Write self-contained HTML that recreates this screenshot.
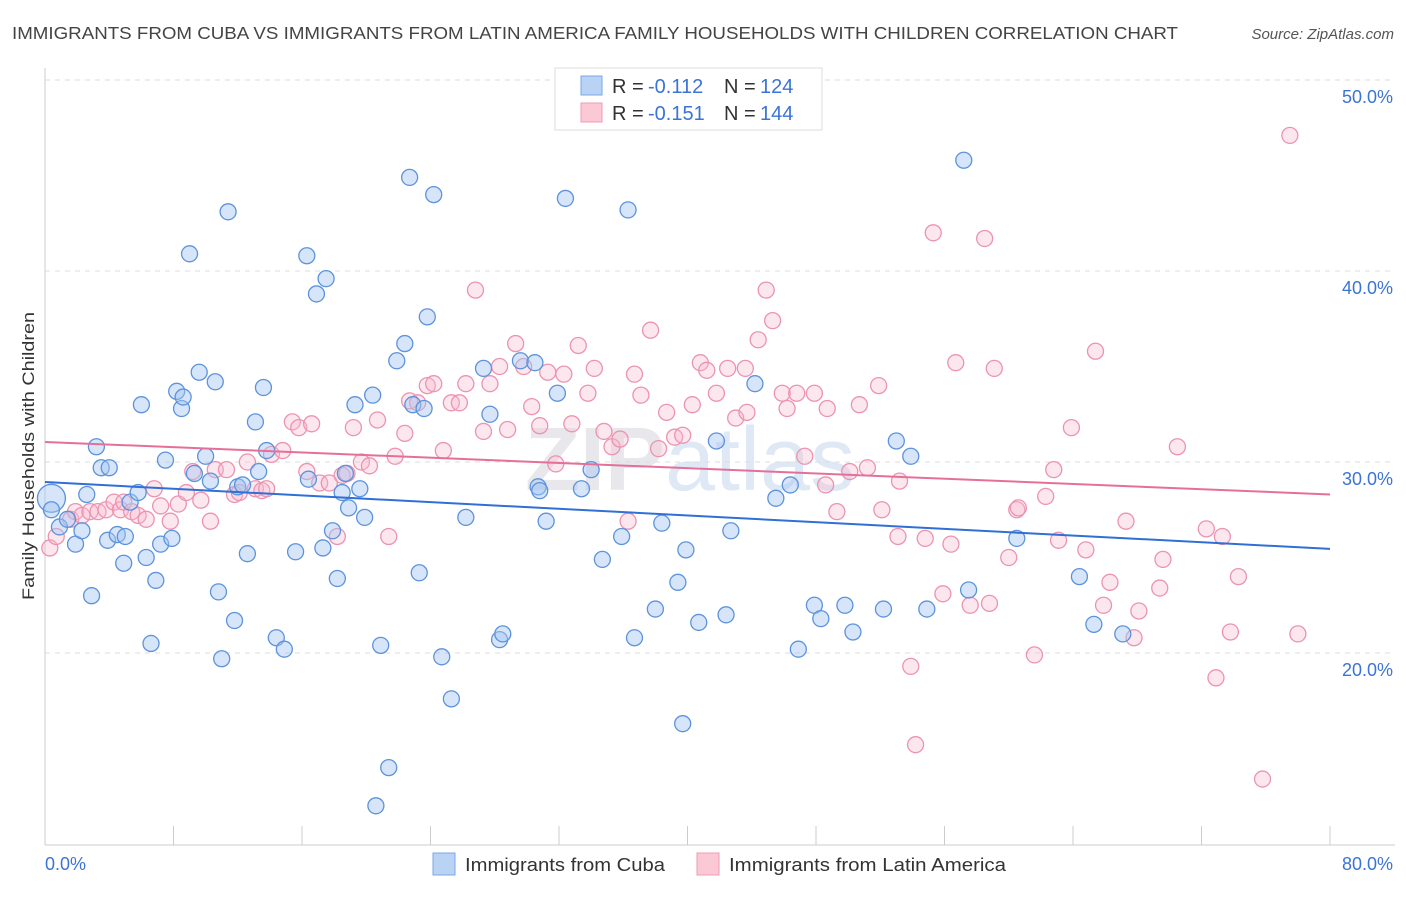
<!DOCTYPE html>
<html><head><meta charset="utf-8"><style>
body{margin:0;background:#fff;font-family:"Liberation Sans",sans-serif;}
svg text{font-family:"Liberation Sans",sans-serif;}
</style></head><body>
<svg id="chart" width="1406" height="892" xmlns="http://www.w3.org/2000/svg">
<text x="12" y="39" font-size="17.5" fill="#444" textLength="1166" lengthAdjust="spacingAndGlyphs">IMMIGRANTS FROM CUBA VS IMMIGRANTS FROM LATIN AMERICA FAMILY HOUSEHOLDS WITH CHILDREN CORRELATION CHART</text>
<text x="1394" y="39" font-size="15" fill="#555" text-anchor="end" font-style="italic">Source: ZipAtlas.com</text>
<text x="690" y="490" font-size="90" fill="#e8e8ec" text-anchor="middle" font-weight="bold">ZIP<tspan fill="#dfe8f5" font-weight="normal">atlas</tspan></text>
<g id="grid"></g><g id="axes"></g><g id="pink"></g><g id="blue"></g><g id="trends"></g>
<text transform="translate(34,456) rotate(-90)" font-size="17" fill="#333" text-anchor="middle" textLength="288" lengthAdjust="spacingAndGlyphs">Family Households with Children</text>
<g>
<rect x="555" y="68" width="267" height="62" fill="#fff" stroke="#ddd"/>
<rect x="581" y="76" width="21" height="19" fill="#b9d3f5" stroke="#7aa7e6"/>
<rect x="581" y="103" width="21" height="19" fill="#fbc8d6" stroke="#f09ab4"/>
<text x="612" y="93" font-size="20" fill="#333">R =</text>
<text x="648" y="93" font-size="20" fill="#3b74d6">-0.112</text>
<text x="724" y="93" font-size="20" fill="#333">N =</text>
<text x="760" y="93" font-size="20" fill="#3b74d6">124</text>
<text x="612" y="120" font-size="20" fill="#333">R =</text>
<text x="648" y="120" font-size="20" fill="#3b74d6">-0.151</text>
<text x="724" y="120" font-size="20" fill="#333">N =</text>
<text x="760" y="120" font-size="20" fill="#3b74d6">144</text>
</g>
<g>
<rect x="433" y="853" width="22" height="22" fill="#b9d3f5" stroke="#7aa7e6"/>
<text x="465" y="871" font-size="18" fill="#333" textLength="200" lengthAdjust="spacingAndGlyphs">Immigrants from Cuba</text>
<rect x="697" y="853" width="22" height="22" fill="#fbc8d6" stroke="#f09ab4"/>
<text x="729" y="871" font-size="18" fill="#333" textLength="277" lengthAdjust="spacingAndGlyphs">Immigrants from Latin America</text>
</g>
</svg>
<script>
const yTicks=[20,30,40,50];
const yTickLabels=["20.0%","30.0%","40.0%","50.0%"];
const xTickVals=[0,8,16,24,32,40,48,56,64,72,80];
const xEndLabels=["0.0%","80.0%"];
const blueX=[0.4,0.4,0.9,1.4,1.9,2.3,3.2,3.5,4.0,2.6,2.9,3.9,4.5,5.0,4.9,5.3,5.8,6.0,6.3,6.6,6.9,7.2,7.5,7.9,8.2,8.5,8.6,9.0,9.3,9.6,10.0,10.3,10.6,10.8,11.0,11.4,11.8,12.0,12.3,12.6,13.1,13.3,13.6,13.8,14.4,14.9,15.6,16.3,16.4,16.9,17.3,17.5,17.9,18.2,18.5,18.7,18.9,19.3,19.6,19.9,20.4,20.6,20.9,21.4,21.9,22.4,22.7,22.9,23.3,23.6,23.8,24.2,24.7,25.3,26.2,27.3,27.7,28.3,28.5,29.6,30.5,30.7,30.8,31.2,31.9,32.4,33.4,34.0,34.7,35.9,36.3,36.7,38.0,38.4,39.4,39.7,39.9,40.7,41.8,42.4,42.7,44.2,45.5,46.4,46.9,47.9,48.3,49.8,50.3,52.2,53.0,53.9,54.9,57.2,57.5,60.5,64.4,65.3,67.1];
const blueY=[28.1,27.5,26.6,27.0,25.7,26.4,30.8,29.7,29.7,28.3,23.0,25.9,26.2,26.1,24.7,27.9,28.4,33.0,25.0,20.5,23.8,25.7,30.1,26.0,33.7,32.8,33.4,40.9,29.4,34.7,30.3,29.0,34.2,23.2,19.7,43.1,21.7,28.7,28.8,25.2,32.1,29.5,33.9,30.6,20.8,20.2,25.3,40.8,29.1,38.8,25.5,39.6,26.4,23.9,28.4,29.4,27.6,33.0,28.6,27.1,33.5,12.0,20.4,14.0,35.3,36.2,44.9,33.0,24.2,32.8,37.6,44.0,19.8,17.6,27.1,34.9,32.5,20.7,21.0,35.3,35.2,28.7,28.5,26.9,33.6,43.8,28.6,29.6,24.9,26.1,43.2,20.8,22.3,26.8,23.7,16.3,25.4,21.6,31.1,22.0,26.4,34.1,28.1,28.8,20.2,22.5,21.8,22.5,21.1,22.3,31.1,30.3,22.3,45.8,23.3,26.0,24.0,21.5,21.0];
const pinkX=[0.3,0.7,1.6,1.9,2.3,2.8,3.3,3.8,4.3,4.7,4.9,5.4,5.8,6.3,6.8,7.2,7.8,8.3,8.8,9.2,9.7,10.3,10.6,11.3,11.8,12.1,12.6,13.1,13.5,13.8,14.1,14.8,15.4,15.8,16.3,16.6,17.1,17.7,18.2,18.5,18.8,19.2,19.7,20.2,20.7,21.4,21.8,22.4,22.7,23.2,23.8,24.2,24.8,25.3,25.8,26.2,26.8,27.3,27.7,28.3,28.8,29.3,29.8,30.3,30.8,31.3,31.8,32.3,32.8,33.2,33.8,34.2,34.8,35.3,35.8,36.3,36.7,37.1,37.7,38.2,38.7,39.2,39.7,40.3,40.8,41.2,41.8,42.5,43.0,43.6,43.7,44.4,44.9,45.3,45.9,46.2,46.8,47.3,47.9,48.6,48.7,49.3,50.1,50.7,51.2,51.9,52.1,53.1,53.2,53.9,54.2,54.8,55.3,55.9,56.4,56.7,57.6,58.5,58.8,59.1,60.0,60.5,60.6,61.6,62.3,62.8,63.1,63.9,64.8,65.4,65.9,66.3,67.3,67.8,68.1,69.4,69.6,70.5,72.3,72.9,73.3,73.8,74.3,75.8,77.5,78.0];
const pinkY=[25.5,26.1,27.0,27.4,27.2,27.4,27.4,27.5,27.9,27.5,27.9,27.4,27.2,27.0,28.6,27.7,26.9,27.8,28.4,29.5,28.0,26.9,29.6,29.6,28.3,28.4,30.0,28.6,28.5,28.6,30.4,30.6,32.1,31.8,29.5,32.0,28.9,28.9,26.1,29.3,29.4,31.8,30.0,29.8,32.2,26.1,30.3,31.5,33.2,33.1,34.0,34.1,30.6,33.1,33.1,34.1,39.0,31.6,34.1,35.0,31.7,36.2,35.0,32.9,31.9,34.7,29.9,34.6,32.0,36.1,33.6,34.9,31.6,30.8,31.2,26.9,34.6,33.5,36.9,30.7,32.6,31.3,31.4,33.0,35.2,34.8,33.6,34.9,32.3,34.9,32.6,36.4,39.0,37.4,33.6,32.8,33.6,30.3,33.6,28.8,32.8,27.4,29.5,33.0,29.7,34.0,27.5,26.1,29.0,19.3,15.2,26.0,42.0,23.1,25.7,35.2,22.5,41.7,22.6,34.9,25.0,27.5,27.6,19.9,28.2,29.6,25.9,31.8,25.4,35.8,22.5,23.7,26.9,20.8,22.2,23.4,24.9,30.8,26.5,18.7,26.1,21.1,24.0,13.4,47.1,21.0];
const trendXs=[0,80];
const blueTrendY=[28.95,25.45];
const pinkTrendY=[31.05,28.3];

const X0=45,X1=1330,Y_TOP=80,PXPER=19.1;
function sx(v){return X0+(v/80)*(X1-X0);}
function sy(v){return Y_TOP+(50-v)*PXPER;}
const NS="http://www.w3.org/2000/svg";
function mk(tag,parent,attrs){const e=document.createElementNS(NS,tag);for(const k in attrs)e.setAttribute(k,attrs[k]);document.getElementById(parent).appendChild(e);return e;}

yTicks.forEach((t,i)=>{
  const l=mk('line','grid',{x1:X0,x2:1395,y1:sy(t),y2:sy(t),stroke:'#ddd','stroke-dasharray':'5,5'});
  
  
  const tx=mk('text','grid',{x:1393,y:sy(t)+23,'font-size':18,fill:'#3b74d6','text-anchor':'end'});
  tx.textContent=yTickLabels[i];
  
  
});
const ax=mk('line','axes',{x1:X0,x2:1395,y1:845,y2:845,stroke:'#ccc'});


const ay=mk('line','axes',{x1:X0,x2:X0,y1:68,y2:845,stroke:'#ccc'});


xTickVals.forEach(v=>{
  const t=mk('line','axes',{x1:sx(v),x2:sx(v),y1:826,y2:845,stroke:'#ccc'});
  
  
});
const xl0=mk('text','axes',{x:45,y:870,'font-size':18,fill:'#3b74d6'});
xl0.textContent=xEndLabels[0];


const xl1=mk('text','axes',{x:1393,y:870,'font-size':18,fill:'#3b74d6','text-anchor':'end'});
xl1.textContent=xEndLabels[1];



pinkX.forEach((v,i)=>{
  const c=mk('circle','pink',{cx:sx(v),cy:sy(pinkY[i]),r:8,fill:'rgba(248,185,205,0.35)',stroke:'#ec93b0','stroke-width':1.3});
  
  
});
blueX.forEach((v,i)=>{
  const c=mk('circle','blue',{cx:sx(v),cy:sy(blueY[i]),r:(i===0?14:8),fill:'rgba(165,198,242,0.45)',stroke:'#5d93dc','stroke-width':1.3});
  
  
});
const tb=mk('line','trends',{x1:sx(trendXs[0]),x2:sx(trendXs[1]),y1:sy(blueTrendY[0]),y2:sy(blueTrendY[1]),stroke:'#2f6fd6','stroke-width':2});


const tp=mk('line','trends',{x1:sx(trendXs[0]),x2:sx(trendXs[1]),y1:sy(pinkTrendY[0]),y2:sy(pinkTrendY[1]),stroke:'#e4709a','stroke-width':2});


</script>
</body></html>
